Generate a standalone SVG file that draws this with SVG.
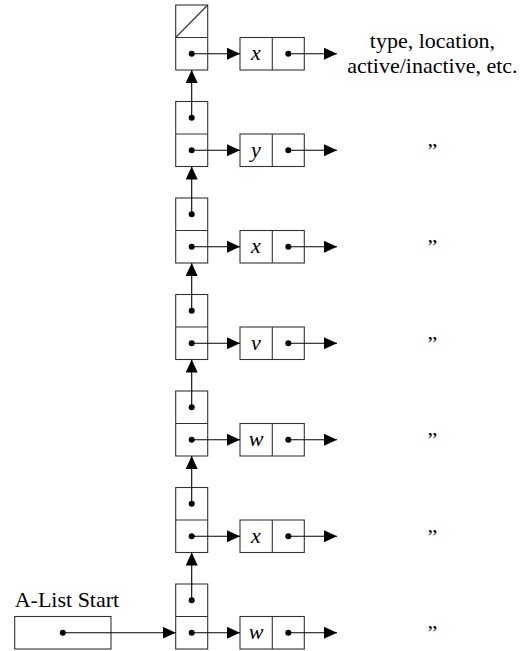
<svg xmlns="http://www.w3.org/2000/svg" width="520" height="651" viewBox="0 0 520 651">
<style>
.box{fill:none;stroke:#333;stroke-width:1.1}
.arr{fill:none;stroke:#000;stroke-width:1.1;marker-end:url(#ah)}
.dot{fill:#000}
text{font-family:"Liberation Serif","Times New Roman",serif;font-size:22px;fill:#000}
.m{font-style:italic;text-anchor:middle}
.d{text-anchor:middle}
</style>
<defs>
<marker id="ah" viewBox="0 0 13 12" refX="13" refY="6" markerWidth="13" markerHeight="12" markerUnits="userSpaceOnUse" orient="auto">
<path d="M0,0 L13,6 L0,12 z" fill="#000"/>
</marker>
</defs>
<rect width="520" height="651" fill="#fff"/>
<g id="start">
<text x="14.7" y="606.7">A-List Start</text>
<rect class="box" x="14.7" y="616.5" width="96.3" height="32.5"/>
<circle class="dot" cx="62.8" cy="632.75" r="3"/>
</g>
<g id="n0">
<rect class="box" x="175.7" y="5" width="32" height="65"/>
<line class="box" x1="175.7" y1="37.5" x2="207.7" y2="37.5"/>
<line class="box" x1="175.7" y1="37.5" x2="207.7" y2="5"/>
<circle class="dot" cx="191.7" cy="53.75" r="3"/>
<rect class="box" x="240" y="37.5" width="64.3" height="32.5"/>
<line class="box" x1="272.3" y1="37.5" x2="272.3" y2="70"/>
<text class="m" x="256" y="60">x</text>
<circle class="dot" cx="288.3" cy="53.75" r="3"/>
<text class="d" x="432.4" y="48">type, location,</text>
<text class="d" x="432.4" y="73">active/inactive, etc.</text>
</g>
<g id="n1">
<rect class="box" x="175.7" y="101.5" width="32" height="65"/>
<line class="box" x1="175.7" y1="134" x2="207.7" y2="134"/>
<circle class="dot" cx="191.7" cy="117.75" r="3"/>
<circle class="dot" cx="191.7" cy="150.25" r="3"/>
<rect class="box" x="240" y="134" width="64.3" height="32.5"/>
<line class="box" x1="272.3" y1="134" x2="272.3" y2="166.5"/>
<text class="m" x="256" y="156.5">y</text>
<circle class="dot" cx="288.3" cy="150.25" r="3"/>
<text class="d" x="432.5" y="157.5">”</text>
</g>
<g id="n2">
<rect class="box" x="175.7" y="198" width="32" height="65"/>
<line class="box" x1="175.7" y1="230.5" x2="207.7" y2="230.5"/>
<circle class="dot" cx="191.7" cy="214.25" r="3"/>
<circle class="dot" cx="191.7" cy="246.75" r="3"/>
<rect class="box" x="240" y="230.5" width="64.3" height="32.5"/>
<line class="box" x1="272.3" y1="230.5" x2="272.3" y2="263"/>
<text class="m" x="256" y="253">x</text>
<circle class="dot" cx="288.3" cy="246.75" r="3"/>
<text class="d" x="432.5" y="254">”</text>
</g>
<g id="n3">
<rect class="box" x="175.7" y="294.5" width="32" height="65"/>
<line class="box" x1="175.7" y1="327" x2="207.7" y2="327"/>
<circle class="dot" cx="191.7" cy="310.75" r="3"/>
<circle class="dot" cx="191.7" cy="343.25" r="3"/>
<rect class="box" x="240" y="327" width="64.3" height="32.5"/>
<line class="box" x1="272.3" y1="327" x2="272.3" y2="359.5"/>
<text class="m" x="256" y="349.5">v</text>
<circle class="dot" cx="288.3" cy="343.25" r="3"/>
<text class="d" x="432.5" y="350.5">”</text>
</g>
<g id="n4">
<rect class="box" x="175.7" y="391" width="32" height="65"/>
<line class="box" x1="175.7" y1="423.5" x2="207.7" y2="423.5"/>
<circle class="dot" cx="191.7" cy="407.25" r="3"/>
<circle class="dot" cx="191.7" cy="439.75" r="3"/>
<rect class="box" x="240" y="423.5" width="64.3" height="32.5"/>
<line class="box" x1="272.3" y1="423.5" x2="272.3" y2="456"/>
<text class="m" x="256" y="446">w</text>
<circle class="dot" cx="288.3" cy="439.75" r="3"/>
<text class="d" x="432.5" y="447">”</text>
</g>
<g id="n5">
<rect class="box" x="175.7" y="487.5" width="32" height="65"/>
<line class="box" x1="175.7" y1="520" x2="207.7" y2="520"/>
<circle class="dot" cx="191.7" cy="503.75" r="3"/>
<circle class="dot" cx="191.7" cy="536.25" r="3"/>
<rect class="box" x="240" y="520" width="64.3" height="32.5"/>
<line class="box" x1="272.3" y1="520" x2="272.3" y2="552.5"/>
<text class="m" x="256" y="542.5">x</text>
<circle class="dot" cx="288.3" cy="536.25" r="3"/>
<text class="d" x="432.5" y="543.5">”</text>
</g>
<g id="n6">
<rect class="box" x="175.7" y="584" width="32" height="65"/>
<line class="box" x1="175.7" y1="616.5" x2="207.7" y2="616.5"/>
<circle class="dot" cx="191.7" cy="600.25" r="3"/>
<circle class="dot" cx="191.7" cy="632.75" r="3"/>
<rect class="box" x="240" y="616.5" width="64.3" height="32.5"/>
<line class="box" x1="272.3" y1="616.5" x2="272.3" y2="649"/>
<text class="m" x="256" y="639">w</text>
<circle class="dot" cx="288.3" cy="632.75" r="3"/>
<text class="d" x="432.5" y="640">”</text>
</g>
<g id="connectors">
<line class="arr" x1="62.8" y1="632.75" x2="175.7" y2="632.75"/>
<line class="arr" x1="191.7" y1="53.75" x2="240" y2="53.75"/>
<line class="arr" x1="288.3" y1="53.75" x2="337" y2="53.75"/>
<line class="arr" x1="191.7" y1="150.25" x2="240" y2="150.25"/>
<line class="arr" x1="288.3" y1="150.25" x2="337" y2="150.25"/>
<line class="arr" x1="191.7" y1="246.75" x2="240" y2="246.75"/>
<line class="arr" x1="288.3" y1="246.75" x2="337" y2="246.75"/>
<line class="arr" x1="191.7" y1="343.25" x2="240" y2="343.25"/>
<line class="arr" x1="288.3" y1="343.25" x2="337" y2="343.25"/>
<line class="arr" x1="191.7" y1="439.75" x2="240" y2="439.75"/>
<line class="arr" x1="288.3" y1="439.75" x2="337" y2="439.75"/>
<line class="arr" x1="191.7" y1="536.25" x2="240" y2="536.25"/>
<line class="arr" x1="288.3" y1="536.25" x2="337" y2="536.25"/>
<line class="arr" x1="191.7" y1="632.75" x2="240" y2="632.75"/>
<line class="arr" x1="288.3" y1="632.75" x2="337" y2="632.75"/>
<line class="arr" x1="191.7" y1="117.75" x2="191.7" y2="70"/>
<line class="arr" x1="191.7" y1="214.25" x2="191.7" y2="166.5"/>
<line class="arr" x1="191.7" y1="310.75" x2="191.7" y2="263"/>
<line class="arr" x1="191.7" y1="407.25" x2="191.7" y2="359.5"/>
<line class="arr" x1="191.7" y1="503.75" x2="191.7" y2="456"/>
<line class="arr" x1="191.7" y1="600.25" x2="191.7" y2="552.5"/>
</g>
</svg>
